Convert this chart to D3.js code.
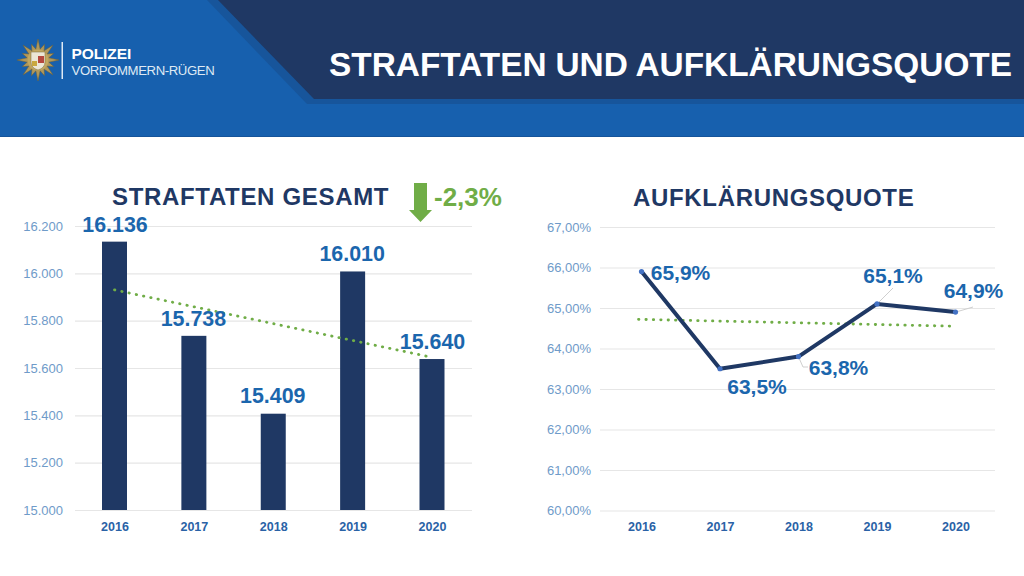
<!DOCTYPE html>
<html lang="de"><head><meta charset="utf-8">
<script src="https://cdnjs.cloudflare.com/ajax/libs/d3/7.9.0/d3.min.js"></script>
<style>html,body{margin:0;padding:0;background:#fff}svg{display:block}text{font-family:"Liberation Sans",Arial,sans-serif}</style>
</head><body><svg id="c" width="1024" height="576"></svg>
<script>
const years = ["2016","2017","2018","2019","2020"];
const crimes = [16136,15738,15409,16010,15640];
const crimeLabels = ["16.136","15.738","15.409","16.010","15.640"];
const crimeTicks = [15000,15200,15400,15600,15800,16000,16200];
const crimeTrend = [15930,15645];
const rate = [65.9,63.5,63.8,65.1,64.9];
const rateLabels = ["65,9%","63,5%","63,8%","65,1%","64,9%"];
const rateTicks = [60,61,62,63,64,65,66,67];
const rateTrend = [64.72,64.55];

const NAVY="#1f3864", BLUE="#1760ae", LBL="#1b66ad", TICK="#6f9bc9", GREEN="#70ad47", GRID="#e6e6e6";
const svg=d3.select("#c");

// header
svg.append("rect").attr("width",1024).attr("height",137).attr("fill",BLUE);
svg.append("rect").attr("y",136).attr("width",1024).attr("height",1).attr("fill","#15549a");
svg.append("path").attr("d","M207,0L307,104L1024,104L1024,0Z").attr("fill","#17559b");
svg.append("path").attr("d","M218,0L314,99L1024,99L1024,0Z").attr("fill",NAVY);
svg.append("text").attr("x",329).attr("y",76).attr("fill","#fff").attr("font-weight",700).attr("font-size",33.4).attr("word-spacing",-.4).text("STRAFTATEN UND AUFKLÄRUNGSQUOTE");

// badge
const g=svg.append("g").attr("transform","translate(38,60)");
const pts=[];for(let i=0;i<32;i++){pts.push([i*Math.PI/16,i%2?11:(i%4?17:21)]);}
g.append("path").attr("d",d3.lineRadial().curve(d3.curveLinearClosed)(pts)).attr("fill","#b0985c").attr("stroke","#75632f").attr("stroke-width",.5);
g.append("circle").attr("r",10.5).attr("fill","#c2a860");
g.append("path").attr("d","M-7,-8H7V2Q7,8 0,10Q-7,8 -7,2Z").attr("fill","#ece7d6").attr("stroke","#7a6a3a").attr("stroke-width",.5);
g.append("rect").attr("x",0).attr("y",-4).attr("width",6).attr("height",7).attr("fill","#b5483e");
g.append("rect").attr("x",-6).attr("y",1).attr("width",5).attr("height",5).attr("fill","#c9a83e");
svg.append("rect").attr("x",61.5).attr("y",42).attr("width",1.5).attr("height",37).attr("fill","#dfe9f4");
svg.append("text").attr("x",71.5).attr("y",58.5).attr("fill","#fff").attr("font-size",15.5).attr("font-weight",700).attr("letter-spacing",-.1).text("POLIZEI");
svg.append("text").attr("x",71.5).attr("y",75).attr("fill","#dfe9f4").attr("font-size",13.2).attr("letter-spacing",-.42).text("VORPOMMERN-RÜGEN");

function gridAxis(scale,ticks,fmt,x0,x1,labelX){
  const a=svg.append("g").attr("transform",`translate(${x0},0)`)
    .call(d3.axisLeft(scale).tickValues(ticks).tickFormat(fmt).tickSize(-(x1-x0)).tickPadding(x0-labelX));
  a.select(".domain").remove();
  a.selectAll("line").attr("stroke",GRID).attr("stroke-width",1.2);
  a.selectAll("text").attr("fill",TICK).attr("font-size",13);
}
function catAxis(scale,y){
  const a=svg.append("g").attr("transform",`translate(0,${y})`)
    .call(d3.axisBottom(scale).tickSize(0).tickPadding(7));
  a.select(".domain").remove();
  a.selectAll("text").attr("fill","#2a62a6").attr("font-size",12.5).attr("font-weight",700);
}
function title(x,y,t){svg.append("text").attr("x",x).attr("y",y).attr("fill",NAVY).attr("font-size",24).attr("font-weight",700).attr("letter-spacing",.67).text(t);}
function dotted(x1,y1,x2,y2){svg.append("line").attr("x1",x1).attr("y1",y1).attr("x2",x2).attr("y2",y2)
  .attr("stroke",GREEN).attr("stroke-width",2.8).attr("stroke-linecap","round").attr("stroke-dasharray","0.4 7");}

// left chart
const xL=d3.scalePoint().domain(years).range([114.5,432]);
const yL=d3.scaleLinear().domain([15000,16200]).range([510,226]);
gridAxis(yL,crimeTicks,d=>d3.format(",")(d).replace(",","."),75,472,63);
svg.selectAll(".bar").data(crimes).join("rect").attr("class","bar")
  .attr("x",(d,i)=>xL(years[i])-12.5).attr("width",25)
  .attr("y",d=>yL(d)+.5).attr("height",d=>yL(15000)-yL(d)-.5).attr("fill",NAVY);
catAxis(xL,515);
dotted(xL(years[0]),yL(crimeTrend[0]),xL(years[4]),yL(crimeTrend[1]));
svg.selectAll(".lv").data(crimeLabels).join("text").attr("class","lv")
  .attr("x",(d,i)=>xL(years[i])+[0.5,-0.5,-0.5,-0.5,0.5][i]).attr("y",(d,i)=>yL(crimes[i])+[-9.5,-9.5,-10,-9.5,-9.5][i])
  .attr("text-anchor","middle").attr("fill",LBL).attr("font-size",21.4).attr("font-weight",700).text(d=>d);
title(112,205,"STRAFTATEN GESAMT");
svg.append("path").attr("d","M414,183H427V210H432L420.5,222L409,210H414Z").attr("fill",GREEN);
svg.append("text").attr("x",434).attr("y",206).attr("fill",GREEN).attr("font-size",26).attr("font-weight",700).text("-2,3%");

// right chart
const xR=d3.scalePoint().domain(years).range([641.5,955.5]);
const yR=d3.scaleLinear().domain([60,67]).range([510.5,227]);
gridAxis(yR,rateTicks,d=>d.toFixed(2).replace(".",",")+"%",600,995,591);
catAxis(xR,515);
dotted(xR(years[0])-3,yR(rateTrend[0]),xR(years[4]),yR(rateTrend[1]));
const lead=[null,null,[[799,358],[803,367],[808,367]],[[877,304],[893,288]],[[956,312],[973,307]]];
lead.forEach(l=>{if(l)svg.append("path").attr("d",d3.line()(l)).attr("fill","none").attr("stroke","#cfcfcf").attr("stroke-width",1);});
svg.append("path").attr("d",d3.line().x((d,i)=>xR(years[i])).y(d=>yR(d))(rate)).attr("fill","none").attr("stroke",NAVY).attr("stroke-width",4).attr("stroke-linejoin","round");
svg.selectAll(".pt").data(rate).join("circle").attr("class","pt").attr("cx",(d,i)=>xR(years[i])).attr("cy",d=>yR(d)).attr("r",2.6).attr("fill","#4472c4");
const off=[[39,8],[37,25],[40,18],[16,-21],[18,-14]];
svg.selectAll(".rv").data(rateLabels).join("text").attr("class","rv")
  .attr("x",(d,i)=>xR(years[i])+off[i][0]).attr("y",(d,i)=>yR(rate[i])+off[i][1])
  .attr("text-anchor","middle").attr("fill",LBL).attr("font-size",21).attr("font-weight",700).text(d=>d);
title(633,206,"AUFKLÄRUNGSQUOTE");
</script></body></html>
